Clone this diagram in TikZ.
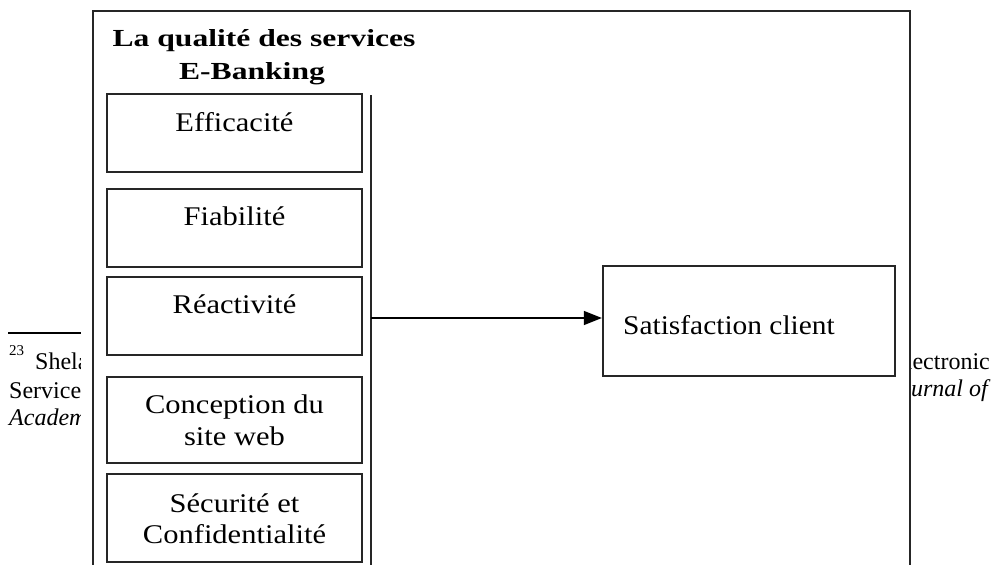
\documentclass[tikz,border=0pt]{standalone}
\usepackage{fontspec}
\setmainfont{Liberation Serif}
\newfontfamily\titlefont[FakeStretch=1.29]{Liberation Serif}
\newfontfamily\boxfont[FakeStretch=1.13]{Liberation Serif}
\newfontfamily\satfont[FakeStretch=1.09]{Liberation Serif}
\newfontfamily\notefont{Liberation Serif}
\usetikzlibrary{arrows.meta}
\begin{document}
\begin{tikzpicture}[x=1pt,y=-1pt,
  inbox/.style={draw=black!85, line width=2.2pt, minimum width=255pt, inner sep=0pt},
  boxtext/.style={anchor=base, inner sep=0pt, font=\boxfont\fontsize{27}{31}\selectfont},
  titletext/.style={anchor=base, inner sep=0pt, font=\titlefont\bfseries\fontsize{24.5}{29}\selectfont},
  notetext/.style={anchor=base west, inner sep=0pt, font=\notefont\fontsize{24}{28}\selectfont},
  noteright/.style={anchor=base east, inner sep=0pt, font=\notefont\fontsize{24}{28}\selectfont},
]
\useasboundingbox (0,0) rectangle (997,565);
\fill[white] (0,0) rectangle (997,565);
% footnote behind the frame
\coordinate (rl) at (8,333);
\coordinate (rr) at (81,333);
\draw[line width=1.4pt] (rl) -- (rr);
\node[anchor=base west, inner sep=0pt, font=\notefont\fontsize{15}{17}\selectfont] (fn) at (9,355) {23};
\node[notetext] (n1) at (35,369) {Shela};
\node[notetext] (n2) at (9,398) {Service};
\node[notetext] (n3) at (9,425) {\itshape Academ};
\node[noteright] (n4) at (990,369) {lectronic};
\node[noteright] (n5) at (988,396) {\itshape urnal of};
% white area covering the footnote
\fill[white] (81,11) rectangle (910,565);
% outer frame
\coordinate (ob1) at (93,565);
\coordinate (ot1) at (93,11);
\coordinate (ot2) at (910,11);
\coordinate (ob2) at (910,565);
\draw[line width=2.5pt, black!85] (ob1) -- (ot1) -- (ot2) -- (ob2);
% title
\node[titletext] (t1) at (264,46) {La qualité des services};
\node[titletext] (t2) at (252,79) {E-Banking};
% boxes
\node[inbox, minimum height=78pt] (b1) at (234.5,133) {};
\node[inbox, minimum height=78pt] (b2) at (234.5,228) {};
\node[inbox, minimum height=78pt] (b3) at (234.5,316) {};
\node[inbox, minimum height=86pt] (b4) at (234.5,420) {};
\node[inbox, minimum height=88pt] (b5) at (234.5,518) {};
\node[boxtext] (l1) at (234.5,131) {Efficacité};
\node[boxtext] (l2) at (234.5,225) {Fiabilité};
\node[boxtext] (l3) at (234.5,313) {Réactivité};
\node[boxtext] (l4a) at (234.5,413) {Conception du};
\node[boxtext] (l4b) at (234.5,445) {site web};
\node[boxtext] (l5a) at (234.5,512) {Sécurité et};
\node[boxtext] (l5b) at (234.5,543) {Confidentialité};
% vertical bar
\coordinate (vt) at (371,95);
\coordinate (vb) at (371,565);
\draw[line width=1.8pt, black!85] (vt) -- (vb);
% satisfaction
\node[draw=black!85, line width=2.2pt, minimum width=292pt, minimum height=110pt, inner sep=0pt] (sat) at (749,321) {};
\node[anchor=base, inner sep=0pt, font=\satfont\fontsize{27}{31}\selectfont] (satt) at (729,334) {Satisfaction client};
\coordinate (va) at (371,318);
\draw[line width=1.3pt, -{Triangle[length=18pt,width=14pt]}] (va) -- (va -| sat.west);
\end{tikzpicture}
\end{document}
